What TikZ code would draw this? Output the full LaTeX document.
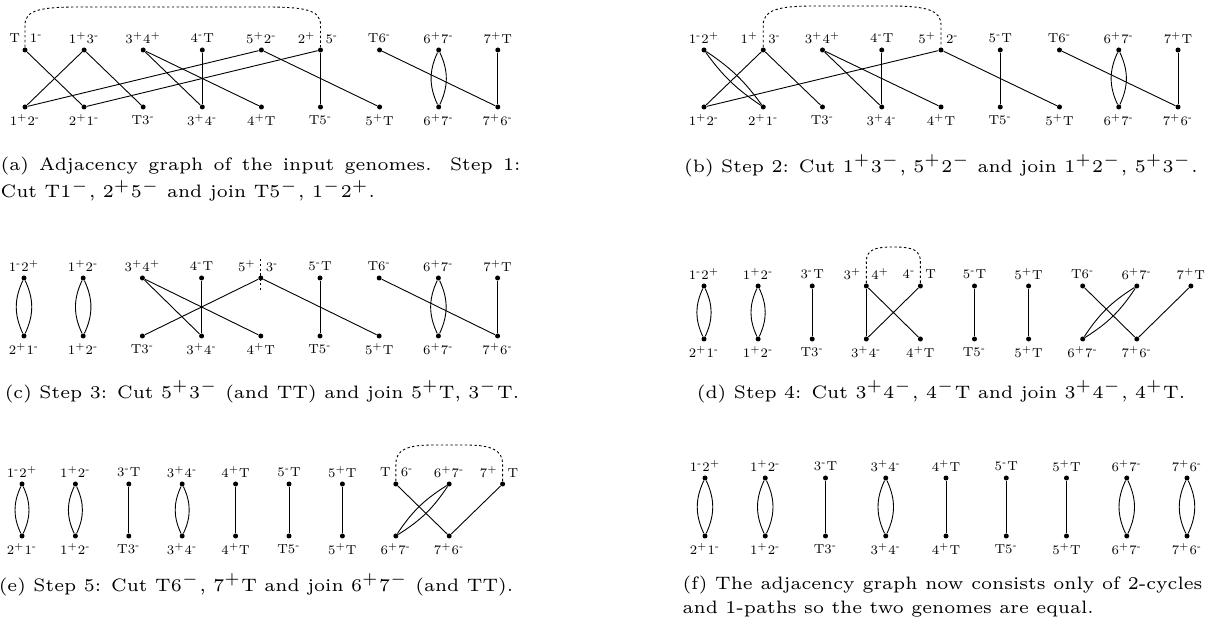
\documentclass[tikz,border=0pt]{standalone}
\usetikzlibrary{positioning}

\newcommand{\gp}{\textsuperscript{+}}
\newcommand{\gm}{\textsuperscript{-}}
% label split by a cut line through the vertex
\newcommand{\cutlab}[2]{\llap{#1\hspace{2.5pt}}\rlap{\hspace{2.5pt}#2}}

\begin{document}
\begin{tikzpicture}[
		x=0.5pt, y=-0.5pt,
		% Vertices of the adjacency graph
		vtx/.style={circle, fill=black, inner sep=0pt, minimum size=2.5pt},
		% Adjacency labels
		adj/.style={font=\fontsize{6.5}{7}\selectfont, inner sep=0pt},
		% Edges and cuts
		link/.style={line width=0.45pt},
		cutline/.style={line width=0.45pt, dash pattern=on 1.2pt off 1.2pt},
		% Sub-captions
		subcap/.style={font=\fontsize{6}{7}\selectfont, scale=1.5, inner sep=0pt}
		]
		\useasboundingbox (0,0) rectangle (1215,640);
		
		% (a) input genomes
		\begin{scope}[shift={(25,0)}]
			\foreach \lab [count=\i from 0] in {\cutlab{T}{1\gm}, 1\gp3\gm, 3\gp4\gp, 4\gm T, 5\gp2\gm, \cutlab{2\gp}{5\gm}, T6\gm, 6\gp7\gm, 7\gp T} {
				\node[vtx] (a-t\i) at (\i*59.1, 50) {};
				\node[adj] (a-tl\i) at (\i*59.1, 38) {\lab};
			}
			\foreach \lab [count=\i from 0] in {1\gp2\gm, 2\gp1\gm, T3\gm, 3\gp4\gm, 4\gp T, T5\gm, 5\gp T, 6\gp7\gm, 7\gp6\gm} {
				\node[vtx] (a-b\i) at (\i*59.1, 107) {};
				\node[adj] (a-bl\i) at (\i*59.1, 120) {\lab};
			}
			\foreach \u/\v in {0/1, 1/0, 1/2, 2/3, 2/4, 3/3, 4/0, 4/6, 5/1, 5/5, 6/8, 8/8}
				\draw[link] (a-t\u) -- (a-b\v);
			\draw[link] (a-t7) to[bend left=25] (a-b7);
			\draw[link] (a-t7) to[bend right=25] (a-b7);
			\draw[cutline] (a-t0.north) -- (0,25) .. controls (0,10) and (15,7) .. (55,7) -- (240.5,7) .. controls (280.5,7) and (295.5,10) .. (295.5,25) -- (a-t5.north);
		\end{scope}
		
		% (b) step 2
		\begin{scope}[shift={(704,0)}]
			\foreach \lab [count=\i from 0] in {1\gm2\gp, \cutlab{1\gp}{3\gm}, 3\gp4\gp, 4\gm T, \cutlab{5\gp}{2\gm}, 5\gm T, T6\gm, 6\gp7\gm, 7\gp T} {
				\node[vtx] (b-t\i) at (\i*59.25, 50) {};
				\node[adj] (b-tl\i) at (\i*59.25, 38) {\lab};
			}
			\foreach \lab [count=\i from 0] in {1\gp2\gm, 2\gp1\gm, T3\gm, 3\gp4\gm, 4\gp T, T5\gm, 5\gp T, 6\gp7\gm, 7\gp6\gm} {
				\node[vtx] (b-b\i) at (\i*59.25, 107) {};
				\node[adj] (b-bl\i) at (\i*59.25, 120) {\lab};
			}
			\foreach \u/\v in {1/0, 1/2, 2/3, 2/4, 3/3, 4/0, 4/6, 5/5, 6/8, 8/8}
				\draw[link] (b-t\u) -- (b-b\v);
			\draw[link] (b-t0) to[bend left=10] (b-b1);
			\draw[link] (b-t0) to[bend right=10] (b-b1);
			\draw[link] (b-t7) to[bend left=25] (b-b7);
			\draw[link] (b-t7) to[bend right=25] (b-b7);
			\draw[cutline] (b-t1.north) -- (59.25,25) .. controls (59.25,10) and (74,6) .. (110,6) -- (186,6) .. controls (222,6) and (237,10) .. (237,25) -- (b-t4.north);
		\end{scope}
		
		% (c) step 3
		\begin{scope}[shift={(24,0)}]
			\foreach \lab [count=\i from 0] in {1\gm2\gp, 1\gp2\gm, 3\gp4\gp, 4\gm T, \cutlab{5\gp}{3\gm}, 5\gm T, T6\gm, 6\gp7\gm, 7\gp T} {
				\node[vtx] (c-t\i) at (\i*59.2, 278) {};
				\node[adj] (c-tl\i) at (\i*59.2, 266) {\lab};
			}
			\foreach \lab [count=\i from 0] in {2\gp1\gm, 1\gp2\gm, T3\gm, 3\gp4\gm, 4\gp T, T5\gm, 5\gp T, 6\gp7\gm, 7\gp6\gm} {
				\node[vtx] (c-b\i) at (\i*59.2, 336) {};
				\node[adj] (c-bl\i) at (\i*59.2, 349) {\lab};
			}
			\foreach \u/\v in {2/3, 2/4, 3/3, 4/2, 4/6, 5/5, 6/8, 8/8}
				\draw[link] (c-t\u) -- (c-b\v);
			\foreach \k in {0, 1, 7} {
				\draw[link] (c-t\k) to[bend left=25] (c-b\k);
				\draw[link] (c-t\k) to[bend right=25] (c-b\k);
			}
			\draw[cutline] (236.8,259) -- (236.8,290);
		\end{scope}
		
		% (d) step 4
		\begin{scope}[shift={(704,0)}]
			\foreach \lab [count=\i from 0] in {1\gm2\gp, 1\gp2\gm, 3\gm T, \cutlab{3\gp}{4\gp}, \cutlab{4\gm}{T}, 5\gm T, 5\gp T, T6\gm, 6\gp7\gm, 7\gp T} {
				\node[vtx] (d-t\i) at (\i*54.1, 286) {};
				\node[adj] (d-tl\i) at (\i*54.1, 274) {\lab};
			}
			\foreach \lab [count=\i from 0] in {2\gp1\gm, 1\gp2\gm, T3\gm, 3\gp4\gm, 4\gp T, T5\gm, 5\gp T, 6\gp7\gm, 7\gp6\gm} {
				\node[vtx] (d-b\i) at (\i*54.1, 339) {};
				\node[adj] (d-bl\i) at (\i*54.1, 352) {\lab};
			}
			\foreach \u/\v in {2/2, 3/3, 3/4, 4/3, 5/5, 6/6, 7/8, 9/8}
				\draw[link] (d-t\u) -- (d-b\v);
			\foreach \k in {0, 1} {
				\draw[link] (d-t\k) to[bend left=25] (d-b\k);
				\draw[link] (d-t\k) to[bend right=25] (d-b\k);
			}
			\draw[link] (d-t8) to[bend left=12] (d-b7);
			\draw[link] (d-t8) to[bend right=12] (d-b7);
			\draw[cutline] (d-t3.north) -- (162.3,262) .. controls (162.3,250) and (170,247) .. (189.35,247) .. controls (208.7,247) and (216.4,250) .. (216.4,262) -- (d-t4.north);
		\end{scope}
		
		% (e) step 5
		\begin{scope}[shift={(22,0)}]
			\foreach \lab [count=\i from 0] in {1\gm2\gp, 1\gp2\gm, 3\gm T, 3\gp4\gm, 4\gp T, 5\gm T, 5\gp T, \cutlab{T}{6\gm}, 6\gp7\gm, \cutlab{7\gp}{T}} {
				\node[vtx] (e-t\i) at (\i*53.4, 484) {};
				\node[adj] (e-tl\i) at (\i*53.4, 472) {\lab};
			}
			\foreach \lab [count=\i from 0] in {2\gp1\gm, 1\gp2\gm, T3\gm, 3\gp4\gm, 4\gp T, T5\gm, 5\gp T, 6\gp7\gm, 7\gp6\gm} {
				\node[vtx] (e-b\i) at (\i*53.4, 536) {};
				\node[adj] (e-bl\i) at (\i*53.4, 549) {\lab};
			}
			\foreach \u/\v in {2/2, 4/4, 5/5, 6/6, 7/8, 9/8}
				\draw[link] (e-t\u) -- (e-b\v);
			\foreach \k in {0, 1, 3} {
				\draw[link] (e-t\k) to[bend left=25] (e-b\k);
				\draw[link] (e-t\k) to[bend right=25] (e-b\k);
			}
			\draw[link] (e-t8) to[bend left=12] (e-b7);
			\draw[link] (e-t8) to[bend right=12] (e-b7);
			\draw[cutline] (e-t7.north) -- (373.8,464) .. controls (373.8,450) and (385,445) .. (410,445) -- (444,445) .. controls (469,445) and (480.6,450) .. (480.6,464) -- (e-t9.north);
		\end{scope}
		
		% (f) final state
		\begin{scope}[shift={(705,0)}]
			\foreach \lab [count=\i from 0] in {1\gm2\gp, 1\gp2\gm, 3\gm T, 3\gp4\gm, 4\gp T, 5\gm T, 5\gp T, 6\gp7\gm, 7\gp6\gm} {
				\node[vtx] (f-t\i) at (\i*60.25, 478) {};
				\node[adj] (f-tl\i) at (\i*60.25, 466) {\lab};
			}
			\foreach \lab [count=\i from 0] in {2\gp1\gm, 1\gp2\gm, T3\gm, 3\gp4\gm, 4\gp T, T5\gm, 5\gp T, 6\gp7\gm, 7\gp6\gm} {
				\node[vtx] (f-b\i) at (\i*60.25, 536) {};
				\node[adj] (f-bl\i) at (\i*60.25, 549) {\lab};
			}
			\foreach \k in {2, 4, 5, 6}
				\draw[link] (f-t\k) -- (f-b\k);
			\foreach \k in {0, 1, 3, 7, 8} {
				\draw[link] (f-t\k) to[bend left=25] (f-b\k);
				\draw[link] (f-t\k) to[bend right=25] (f-b\k);
			}
		\end{scope}
		
		% Captions
		\node[subcap, anchor=west] (cap-a1) at (0,166) {\makebox[173.3pt][s]{(a) Adjacency graph of the input genomes. Step 1:}};
		\node[subcap, anchor=west] (cap-a2) at (0,191) {Cut T1$^-$, 2$^+$5$^-$ and join T5$^-$, 1$^-$2$^+$.};
		\node[subcap] (cap-b) at (941,166) {(b) Step 2: Cut 1$^+$3$^-$, 5$^+$2$^-$ and join 1$^+$2$^-$, 5$^+$3$^-$.};
		\node[subcap] (cap-c) at (262,392) {(c) Step 3: Cut 5$^+$3$^-$ (and TT) and join 5$^+$T, 3$^-$T.};
		\node[subcap] (cap-d) at (941,392) {(d) Step 4: Cut 3$^+$4$^-$, 4$^-$T and join 3$^+$4$^-$, 4$^+$T.};
		\node[subcap] (cap-e) at (256,585) {(e) Step 5: Cut T6$^-$, 7$^+$T and join 6$^+$7$^-$ (and TT).};
		\node[subcap, anchor=west] (cap-f1) at (682,585) {\makebox[173.3pt][s]{(f) The adjacency graph now consists only of 2-cycles}};
		\node[subcap, anchor=west] (cap-f2) at (682,609) {and 1-paths so the two genomes are equal.};
	\end{tikzpicture}
\end{document}
